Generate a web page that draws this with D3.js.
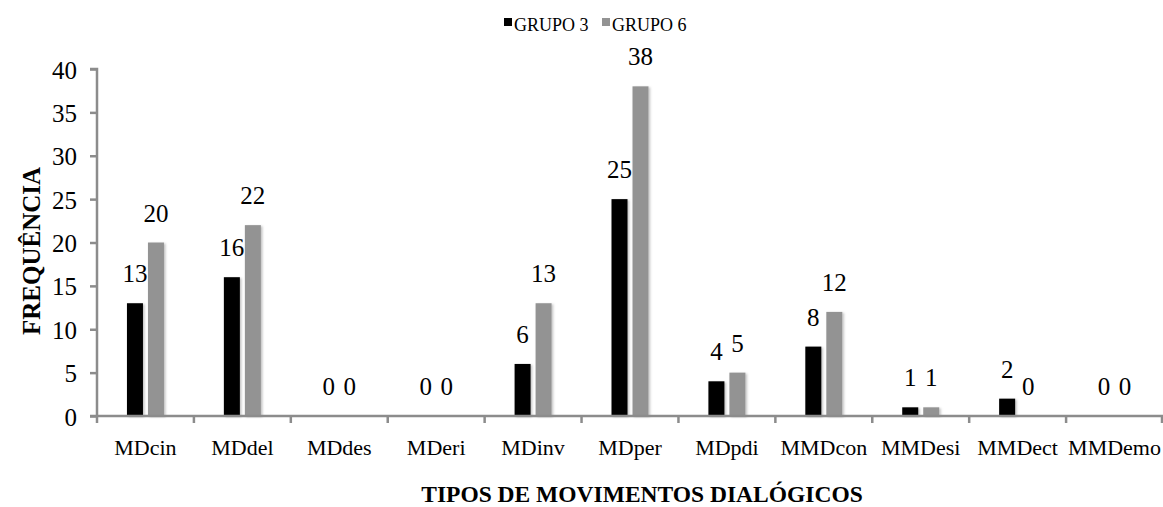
<!DOCTYPE html>
<html>
<head>
<meta charset="utf-8">
<script src="https://cdn.jsdelivr.net/npm/d3@7"></script>
<style>
  html, body { margin: 0; padding: 0; background: #fff; }
  svg { display: block; }
  svg text { font-family: "Liberation Serif", "Times New Roman", serif; }
</style>
</head>
<body>
<svg id="chart" width="1163" height="507"></svg>
<script>
// Dialogic movement types and counts per group
const categories = ["MDcin", "MDdel", "MDdes", "MDeri", "MDinv", "MDper", "MDpdi", "MMDcon", "MMDesi", "MMDect", "MMDemo"];
const grupo3 = [13, 16, 0, 0, 6, 25, 4, 8, 1, 2, 0];
const grupo6 = [20, 22, 0, 0, 13, 38, 5, 12, 1, 0, 0];
const seriesNames = ["GRUPO 3", "GRUPO 6"];
const seriesColors = ["#000000", "#939393"];
const yTicks = [0, 5, 10, 15, 20, 25, 30, 35, 40];

const SERIF = '"Liberation Serif", "Times New Roman", serif';
const AXIS_COLOR = "#8c8c8c";

const svg = d3.select("#chart");
const margin = { left: 97, right: 0, top: 69, bottom: 91 };
const width = 1163, height = 507;
const plotBottom = height - margin.bottom;

const x = d3.scaleBand().domain(categories).range([margin.left, width - margin.right]);
const y = d3.scaleLinear().domain([0, 40]).range([plotBottom, margin.top]);

// soft shadow under bars
const defs = svg.append("defs");
const f = defs.append("filter").attr("id", "shadow")
  .attr("x", "-30%").attr("y", "-10%").attr("width", "160%").attr("height", "130%");
f.append("feDropShadow").attr("dx", 1.5).attr("dy", 1).attr("stdDeviation", 1.2)
  .attr("flood-color", "#000").attr("flood-opacity", 0.25);

const barW = 16, gap = 5;
const series = [grupo3, grupo6];
const center = c => x(c) + x.bandwidth() / 2;

series.forEach((vals, si) => {
  const offset = si === 0 ? -(gap / 2 + barW) : gap / 2;
  const rows = categories.map((c, i) => ({ c, v: vals[i] }));

  svg.append("g").selectAll("rect")
    .data(rows)
    .join("rect")
    .attr("x", d => center(d.c) + offset)
    .attr("y", d => y(d.v))
    .attr("width", barW)
    .attr("height", d => plotBottom - y(d.v))
    .attr("fill", seriesColors[si])
    .attr("filter", "url(#shadow)");

  svg.append("g").selectAll("text")
    .data(rows)
    .join("text")
    .attr("x", d => center(d.c) + offset + barW / 2)
    .attr("y", d => y(d.v) - 21)
    .attr("text-anchor", "middle")
    .style("font-family", SERIF)
    .style("font-size", "25px")
    .attr("fill", "#000")
    .text(d => d.v);
});

// Y axis
const yAxis = d3.axisLeft(y).tickValues(yTicks).tickSize(7).tickPadding(13);
const gy = svg.append("g").attr("transform", `translate(${margin.left},0)`).call(yAxis);
gy.attr("font-family", null).attr("font-size", null);
gy.select(".domain").attr("stroke", AXIS_COLOR).attr("stroke-width", 2.5)
  .attr("d", `M-7,${margin.top}H0V${plotBottom}`);
gy.selectAll(".tick line").attr("stroke", AXIS_COLOR).attr("stroke-width", 2.5);
gy.selectAll(".tick text")
  .style("font-family", SERIF).style("font-size", "25px")
  .attr("fill", "#000").attr("dy", "0.36em");

// X axis with ticks at category boundaries
const gx = svg.append("g").attr("transform", `translate(0,${plotBottom})`);
gx.append("line").attr("x1", margin.left - 7).attr("x2", width).attr("y1", 0).attr("y2", 0)
  .attr("stroke", AXIS_COLOR).attr("stroke-width", 2.5);
const boundaries = categories.map(c => x(c)).concat([width - margin.right - 1]);
gx.selectAll("line.bt").data(boundaries).join("line").attr("class", "bt")
  .attr("x1", d => d).attr("x2", d => d).attr("y1", 0).attr("y2", 7)
  .attr("stroke", AXIS_COLOR).attr("stroke-width", 2.5);
gx.selectAll("text").data(categories).join("text")
  .attr("x", d => center(d))
  .attr("y", 39)
  .attr("text-anchor", "middle")
  .style("font-family", SERIF)
  .style("font-size", "22px")
  .attr("fill", "#000")
  .text(d => d);

// Axis titles
svg.append("text")
  .attr("x", 642).attr("y", 502)
  .attr("text-anchor", "middle")
  .style("font-family", SERIF)
  .style("font-size", "23.5px").style("font-weight", "bold")
  .text("TIPOS DE MOVIMENTOS DIALÓGICOS");

svg.append("text")
  .attr("transform", `translate(40,251) rotate(-90)`)
  .attr("text-anchor", "middle")
  .style("font-family", SERIF)
  .style("font-size", "25px").style("font-weight", "bold")
  .text("FREQUÊNCIA");

// Legend
const legend = svg.append("g").attr("transform", "translate(504,0)");
const legendX = [0, 98];
seriesNames.forEach((name, i) => {
  legend.append("rect").attr("x", legendX[i]).attr("y", 18)
    .attr("width", 8).attr("height", 8).attr("fill", seriesColors[i]);
  legend.append("text").attr("x", legendX[i] + 10).attr("y", 31)
    .style("font-family", SERIF).style("font-size", "18px")
    .attr("fill", "#000").text(name);
});
</script>
</body>
</html>
